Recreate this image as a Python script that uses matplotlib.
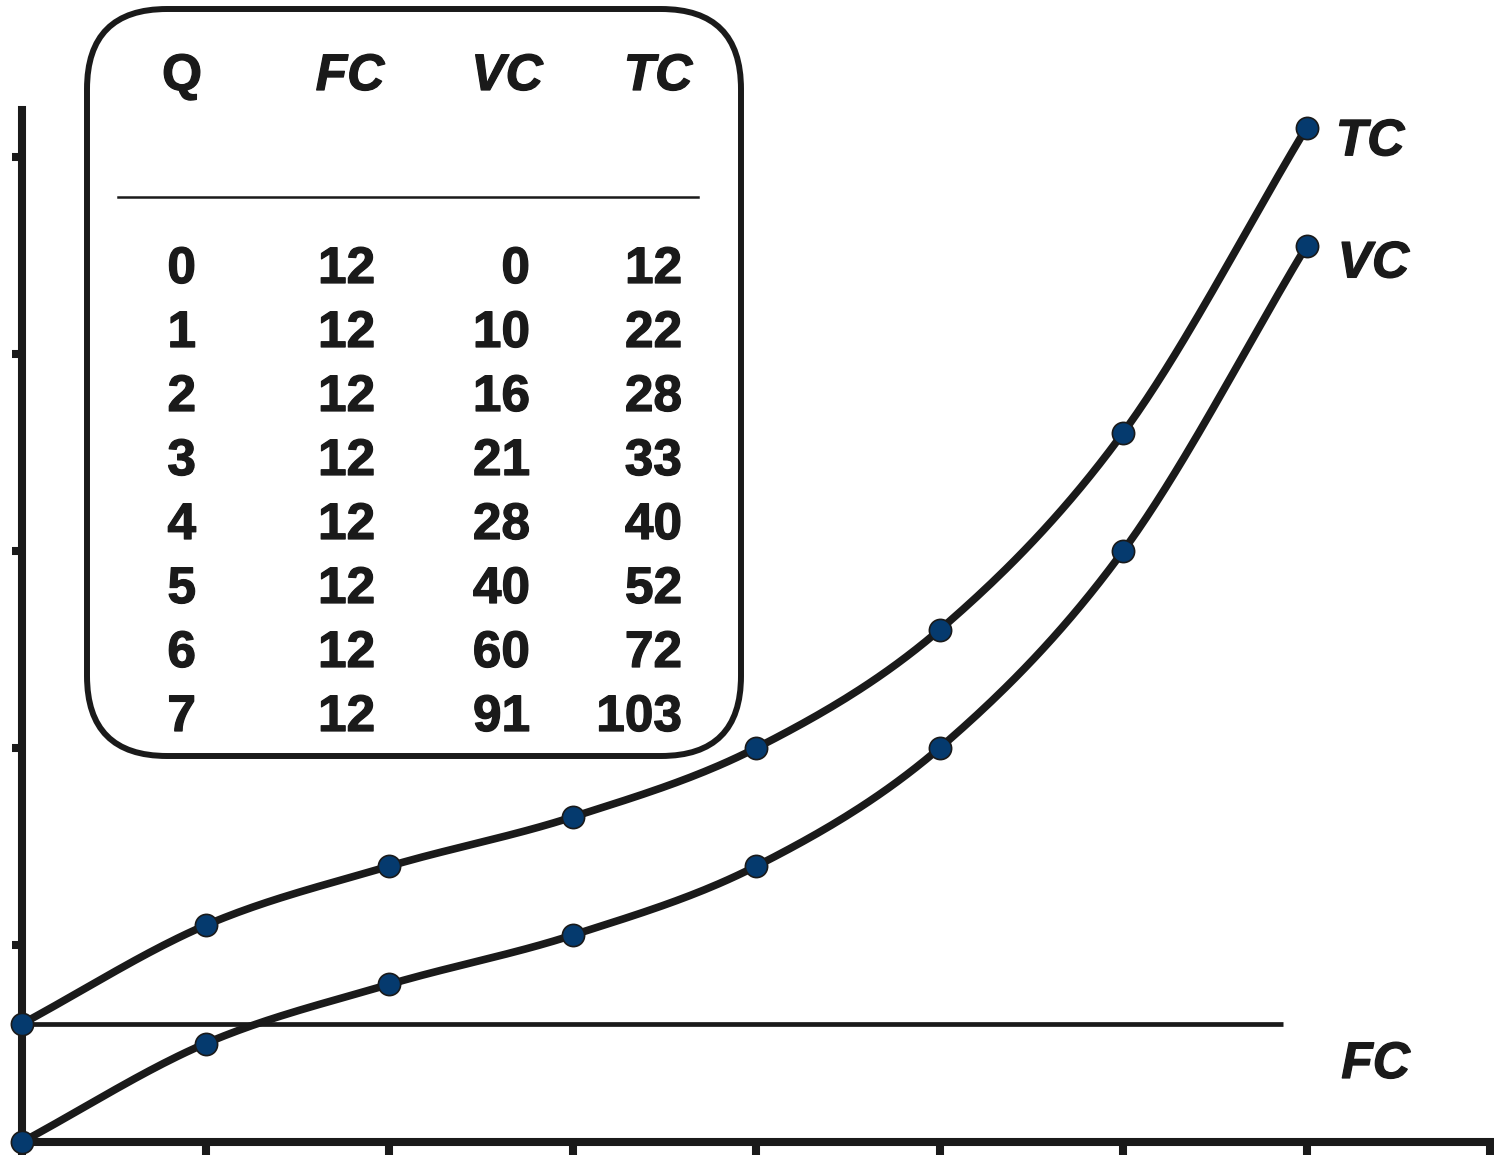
import numpy as np
import matplotlib.pyplot as plt
import matplotlib.patheffects as pe
from matplotlib.patches import FancyBboxPatch

# cost schedule
q = [0, 1, 2, 3, 4, 5, 6, 7]
fc = [12, 12, 12, 12, 12, 12, 12, 12]
vc = [0, 10, 16, 21, 28, 40, 60, 91]
tc = [12, 22, 28, 33, 40, 52, 72, 103]
fc_end = 6.87  # where the FC line stops

ink = "#1a1a1a"
dot = "#053a6e"
font = "Liberation Sans"
heavy = [pe.withStroke(linewidth=0.9, foreground=ink)]


def catmull_rom(xs, ys, steps=40):
    x = np.asarray(xs, float)
    y = np.asarray(ys, float)
    px = np.concatenate([[2 * x[0] - x[1]], x, [2 * x[-1] - x[-2]]])
    py = np.concatenate([[2 * y[0] - y[1]], y, [2 * y[-1] - y[-2]]])
    t = np.linspace(0, 1, steps)
    out_x, out_y = [], []
    for i in range(1, len(px) - 2):
        for arr, out in ((px, out_x), (py, out_y)):
            p0, p1, p2, p3 = arr[i - 1:i + 3]
            out.append(0.5 * (2 * p1 + (-p0 + p2) * t
                              + (2 * p0 - 5 * p1 + 4 * p2 - p3) * t ** 2
                              + (-p0 + 3 * p1 - 3 * p2 + p3) * t ** 3))
    return np.concatenate(out_x), np.concatenate(out_y)


fig = plt.figure(figsize=(14.94, 11.55), dpi=100)
ax = fig.add_axes([22 / 1494, 13 / 1155, 1468 / 1494, 1032 / 1155])

# FC line
ax.plot([q[0], fc_end], [fc[0], fc[-1]], color=ink, lw=3.4, solid_capstyle="butt")

for series in (tc, vc):
    sx, sy = catmull_rom(q, series)
    ax.plot(sx, sy, color=ink, lw=5.5, solid_capstyle="round", clip_on=False)
    ax.plot(q, series, "o", ms=16, mfc=dot, mec=ink, mew=1.2, clip_on=False, zorder=5)

lab = dict(fontsize=37, fontweight="bold", style="italic", family=font,
           color=ink, ha="left", va="baseline", path_effects=heavy)
ax.text(7.16, 100.2, "TC", **lab)
ax.text(7.17, 87.8, "VC", **lab)
ax.text(7.19, 6.5, "FC", **lab)

ax.set_xlim(0, 8)
ax.set_ylim(0, 104.8)
ax.set_xticks(range(0, 9))
ax.set_yticks([20, 40, 60, 80, 100])
ax.set_xticklabels([])
ax.set_yticklabels([])
ax.tick_params(axis="y", direction="out", length=7.5, width=5.8, color=ink)
ax.tick_params(axis="x", direction="out", length=14, width=5.8, color=ink)
for side in ("top", "right"):
    ax.spines[side].set_visible(False)
for side in ("left", "bottom"):
    ax.spines[side].set_linewidth(5.8)
    ax.spines[side].set_color(ink)
ax.patch.set_alpha(0)

# table panel, drawn on a pixel-scaled overlay
ov = fig.add_axes([0, 0, 1, 1], zorder=3)
ov.set_xlim(0, 1494)
ov.set_ylim(1155, 0)
ov.axis("off")
ov.patch.set_alpha(0)

box = FancyBboxPatch((87, 9), 654, 747, boxstyle="round,pad=0,rounding_size=80",
                     fc="white", ec=ink, lw=4.3)
ov.add_patch(box)
ov.plot([118, 698], [197, 197], color=ink, lw=1.8)

txt = dict(fontsize=37, fontweight="bold", family=font, color=ink,
           va="baseline", path_effects=heavy)
ov.text(182, 90, "Q", ha="center", **txt)
ov.text(350, 90, "FC", ha="center", style="italic", **txt)
ov.text(507, 90, "VC", ha="center", style="italic", **txt)
ov.text(658, 90, "TC", ha="center", style="italic", **txt)

for i in range(len(q)):
    base = 283 + 64 * i
    ov.text(196, base, str(q[i]), ha="right", **txt)
    ov.text(375, base, str(fc[i]), ha="right", **txt)
    ov.text(530, base, str(vc[i]), ha="right", **txt)
    ov.text(682, base, str(tc[i]), ha="right", **txt)

fig.savefig("out.png", dpi=100)
